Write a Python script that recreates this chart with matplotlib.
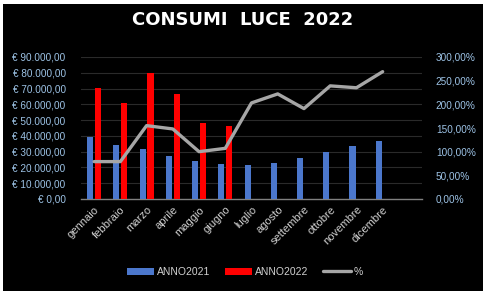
import matplotlib
matplotlib.use("Agg")
from matplotlib import pyplot as plt
from matplotlib.patches import Rectangle
from matplotlib.ticker import FuncFormatter

mesi = ["gennaio", "febbraio", "marzo", "aprile", "maggio", "giugno",
        "luglio", "agosto", "settembre", "ottobre", "novembre", "dicembre"]

# consumi in euro
anno2021 = [39300, 34200, 31700, 27300, 24100, 22200, 21500, 22800, 26000, 29800, 33600, 36800]
anno2022 = [70300, 60800, 79800, 66500, 48200, 46200]

# percentuale
percentuale = [79, 79, 155, 148, 100, 107, 203, 222, 191, 239, 235, 269]

plt.rcParams["font.family"] = ["Liberation Sans", "DejaVu Sans"]

fig = plt.figure(figsize=(4.9, 3.0), dpi=100)
fig.patch.set_facecolor("white")
fig.patches.append(Rectangle((3 / 490, 1 - 291 / 300), 480 / 490, 287 / 300,
                             transform=fig.transFigure, facecolor="black",
                             edgecolor="none", zorder=-10))

ax1 = fig.add_axes([81 / 490, 1 - 199 / 300, 341 / 490, 142 / 300])
ax1.set_facecolor("black")
x = list(range(len(mesi)))

ax1.bar([i - 0.15 for i in x], anno2021, width=0.23, color="#4b77cc", label="ANNO2021", zorder=3)
ax1.bar([i + 0.15 for i in x[:len(anno2022)]], anno2022, width=0.23, color="#ff0000",
        label="ANNO2022", zorder=3)

ax1.set_xlim(-0.5, 12.5)
ax1.set_ylim(0, 90000)
ax1.set_yticks(range(0, 90001, 10000))
ax1.yaxis.set_major_formatter(FuncFormatter(
    lambda v, p: "€ " + f"{v:,.2f}".replace(",", "X").replace(".", ",").replace("X", ".")))
ax1.grid(axis="y", color="#2a2a2a", linewidth=0.8, zorder=0)
ax1.set_axisbelow(True)
ax1.set_xticks(x)
ax1.set_xticklabels(mesi, rotation=45, ha="right", rotation_mode="anchor")
for s in ["top", "right", "left"]:
    ax1.spines[s].set_visible(False)
ax1.spines["bottom"].set_color("#808080")
ax1.spines["bottom"].set_linewidth(1)
ax1.tick_params(axis="y", length=0, pad=11, labelsize=7.2, labelcolor="#9dc3e6")
ax1.tick_params(axis="x", length=0, pad=4, labelsize=8, labelcolor="#d0d0d0")

ax2 = ax1.twinx()
ax2.plot(x, percentuale, color="#a6a6a6", linewidth=2.4, solid_joinstyle="round",
         solid_capstyle="round", label="%", zorder=4)
ax2.set_ylim(0, 300)
ax2.set_yticks(range(0, 301, 50))
ax2.yaxis.set_major_formatter(FuncFormatter(lambda v, p: f"{v:.2f}".replace(".", ",") + "%"))
ax2.tick_params(axis="y", length=0, pad=10, labelsize=7.2, labelcolor="#9dc3e6")
for s in ["top", "right", "left", "bottom"]:
    ax2.spines[s].set_visible(False)

fig.text(0.496, 1 - 20 / 300, "CONSUMI  LUCE  2022", ha="center", va="center",
         color="white", fontsize=13, fontweight="bold", family="DejaVu Sans")

h1, l1 = ax1.get_legend_handles_labels()
h2, l2 = ax2.get_legend_handles_labels()
leg = fig.legend(h1 + h2, l1 + l2, loc="center", bbox_to_anchor=(0.5, 1 - 272 / 300),
                 ncol=3, frameon=False, fontsize=7.5, handlelength=2.6, handleheight=0.7,
                 handletextpad=0.3, columnspacing=1.4)
for t in leg.get_texts():
    t.set_color("#d0d0d0")

fig.savefig("out.png", dpi=100, facecolor=fig.get_facecolor())
